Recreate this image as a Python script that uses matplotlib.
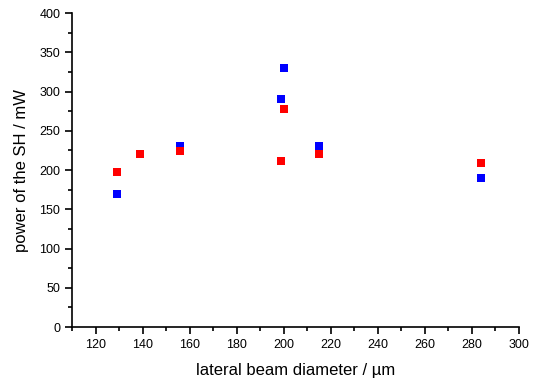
import matplotlib
matplotlib.use('Agg')
import matplotlib.pyplot as plt
from matplotlib.ticker import MultipleLocator

plt.rcParams['font.family'] = ['Liberation Sans', 'DejaVu Sans']

diameter = [129, 139, 156, 199, 200, 215, 284]
power_blue = [170, 220, 230, 290, 330, 230, 190]
power_red = [197, 220, 224, 212, 278, 221, 209]

fig = plt.figure(figsize=(5.35, 3.83), dpi=100)
ax = fig.add_axes([0.1346, 0.146, 0.8354, 0.82])
ax.plot(diameter, power_blue, 's', color='#0000ff', markersize=5.7, markeredgewidth=0)
ax.plot(diameter, power_red, 's', color='#ff0000', markersize=5.7, markeredgewidth=0)

ax.set_xlim(110, 300)
ax.set_ylim(0, 400)
ax.xaxis.set_major_locator(MultipleLocator(20))
ax.xaxis.set_minor_locator(MultipleLocator(10))
ax.yaxis.set_major_locator(MultipleLocator(50))
ax.yaxis.set_minor_locator(MultipleLocator(25))
ax.spines['top'].set_visible(False)
ax.spines['right'].set_visible(False)
for s in ('left', 'bottom'):
    ax.spines[s].set_linewidth(1.2)
ax.tick_params(which='major', direction='out', length=5, width=1.2, labelsize=9)
ax.tick_params(which='minor', direction='out', length=3, width=1.2)
ax.set_xlabel('lateral beam diameter / µm', fontsize=12, labelpad=9)
ax.set_ylabel('power of the SH / mW', fontsize=12, labelpad=7)
fig.savefig('out.png', dpi=100)
